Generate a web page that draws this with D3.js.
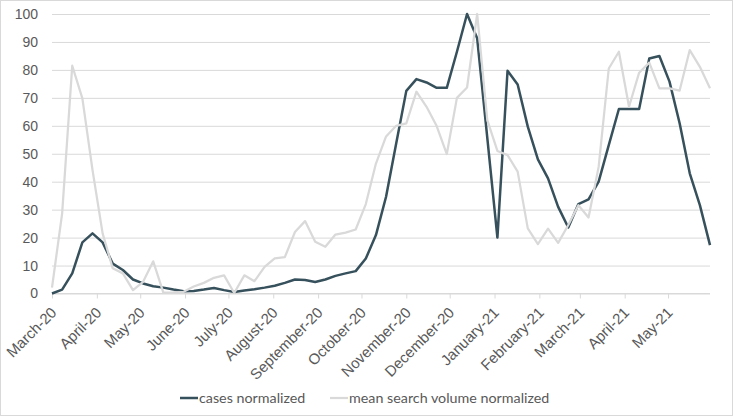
<!DOCTYPE html>
<html><head><meta charset="utf-8">
<script src="https://cdn.jsdelivr.net/npm/d3@7"></script>
<style>
html,body{margin:0;padding:0;background:#fff;}
svg{display:block;font-family:Lato,"Open Sans",sans-serif;}
</style></head>
<body>
<svg id="chart" width="733" height="416"></svg>
<script>
const weeks = ["2020-03-01","2020-03-08","2020-03-15","2020-03-22","2020-03-29","2020-04-05","2020-04-12","2020-04-19","2020-04-26",
"2020-05-03","2020-05-10","2020-05-17","2020-05-24","2020-05-31","2020-06-07","2020-06-14","2020-06-21","2020-06-28",
"2020-07-05","2020-07-12","2020-07-19","2020-07-26","2020-08-02","2020-08-09","2020-08-16","2020-08-23","2020-08-30",
"2020-09-06","2020-09-13","2020-09-20","2020-09-27","2020-10-04","2020-10-11","2020-10-18","2020-10-25",
"2020-11-01","2020-11-08","2020-11-15","2020-11-22","2020-11-29","2020-12-06","2020-12-13","2020-12-20","2020-12-27",
"2021-01-03","2021-01-10","2021-01-17","2021-01-24","2021-01-31","2021-02-07","2021-02-14","2021-02-21","2021-02-28",
"2021-03-07","2021-03-14","2021-03-21","2021-03-28","2021-04-04","2021-04-11","2021-04-18","2021-04-25",
"2021-05-02","2021-05-09","2021-05-16","2021-05-23","2021-05-30"];

const casesNormalized = [0,1.4,7.2,18.3,21.5,18.3,10.7,8.4,5.0,3.6,2.6,2.1,1.4,0.8,0.9,1.4,2.0,1.2,0.5,1.1,1.5,2.1,2.8,
3.8,5.0,4.8,4.1,5.0,6.3,7.2,8.0,12.5,20.9,34.6,53.7,72.5,76.7,75.5,73.6,73.6,86.5,100,91.3,55.7,20.0,
79.7,74.8,59.7,48.0,41.2,31.0,23.6,32.0,33.7,40.0,53.1,66.0,66.0,66.0,84.1,85.0,75.8,60.9,43.0,31.6,17.3];

const searchNormalized = [2.1,28.6,81.5,69.8,44.2,21.5,9.0,7.2,1.2,4.2,11.5,0.3,0.4,0.6,2.5,3.8,5.6,6.5,0.2,6.5,4.4,9.5,12.6,
13.0,22.0,25.9,18.5,16.7,21.1,21.8,22.9,32.0,46.5,56.2,60.0,60.9,72.2,66.8,59.9,49.9,70.0,73.7,100,62.0,51.0,
49.5,43.6,23.3,17.7,23.2,18.1,24.5,31.6,27.2,45.3,80.5,86.5,66.8,79.0,82.6,73.4,73.4,72.6,87.1,81.1,73.4];

const monthTicks = ["2020-03-01","2020-04-01","2020-05-01","2020-06-01","2020-07-01","2020-08-01","2020-09-01","2020-10-01",
"2020-11-01","2020-12-01","2021-01-01","2021-02-01","2021-03-01","2021-04-01","2021-05-01"];
const monthLabels = ["March-20","April-20","May-20","June-20","July-20","August-20","September-20","October-20",
"November-20","December-20","January-21","February-21","March-21","April-21","May-21"];
const yTicks = [0,10,20,30,40,50,60,70,80,90,100];
const seriesNames = ["cases normalized","mean search volume normalized"];

const parse = d3.utcParse("%Y-%m-%d");
const dates = weeks.map(parse);
const tickDates = monthTicks.map(parse);

const svg = d3.select("#chart");
const W = 733, H = 416;
const x0 = 52, x1 = 710, yTop = 14, yBot = 293.5;

svg.append("rect").attr("x",0.5).attr("y",0.5).attr("width",W-1).attr("height",H-1)
  .attr("fill","#fff").attr("stroke","#d9d9d9");

const x = d3.scaleUtc().domain([dates[0], dates[dates.length-1]]).range([x0, x1]);
const y = d3.scaleLinear().domain([0,100]).range([yBot, yTop]);

// gridlines
const yAxis = d3.axisLeft(y).tickValues(yTicks).tickSize(-(x1-x0)).tickPadding(14);
const gy = svg.append("g").attr("transform",`translate(${x0},0)`).call(yAxis);
gy.select(".domain").remove();
gy.selectAll(".tick line").attr("stroke","#d9d9d9").attr("stroke-width",1);
gy.selectAll(".tick text").attr("fill","#595959").attr("font-size",14).attr("x",-14);

// x axis
const xAxis = d3.axisBottom(x).tickValues(tickDates).tickSize(5).tickFormat((d,i)=>monthLabels[i]);
const gx = svg.append("g").attr("transform",`translate(0,${yBot})`).call(xAxis);
gx.select(".domain").attr("stroke","#d9d9d9").attr("d",`M${x0},0H${x1}`);
gx.selectAll(".tick line").attr("stroke","#d9d9d9");
gx.selectAll(".tick text")
  .attr("fill","#595959").attr("font-size",15)
  .attr("text-anchor","end")
  .attr("y",0).attr("dy",0)
  .attr("transform","translate(5,20) rotate(-45)");

const line = d3.line().x((d,i)=>x(dates[i])).y(d=>y(d));

svg.append("path").datum(casesNormalized).attr("d",line)
  .attr("fill","none").attr("stroke","#36505c").attr("stroke-width",2.5).attr("stroke-linejoin","round");
svg.append("path").datum(searchNormalized).attr("d",line)
  .attr("fill","none").attr("stroke","#d9d9d9").attr("stroke-width",2.25).attr("stroke-linejoin","round");

// legend
const legend = svg.append("g").attr("font-size",14.3).attr("fill","#595959");
const legY = 398;
const items = [{name:seriesNames[0],color:"#36505c",w:2.5,x:180},{name:seriesNames[1],color:"#d9d9d9",w:2.25,x:330}];
items.forEach(it=>{
  legend.append("line").attr("x1",it.x).attr("x2",it.x+18).attr("y1",legY).attr("y2",legY)
    .attr("stroke",it.color).attr("stroke-width",it.w);
  legend.append("text").attr("x",it.x+19).attr("y",legY).attr("dy","0.35em").attr("fill","#595959").text(it.name);
});
</script>
</body></html>
